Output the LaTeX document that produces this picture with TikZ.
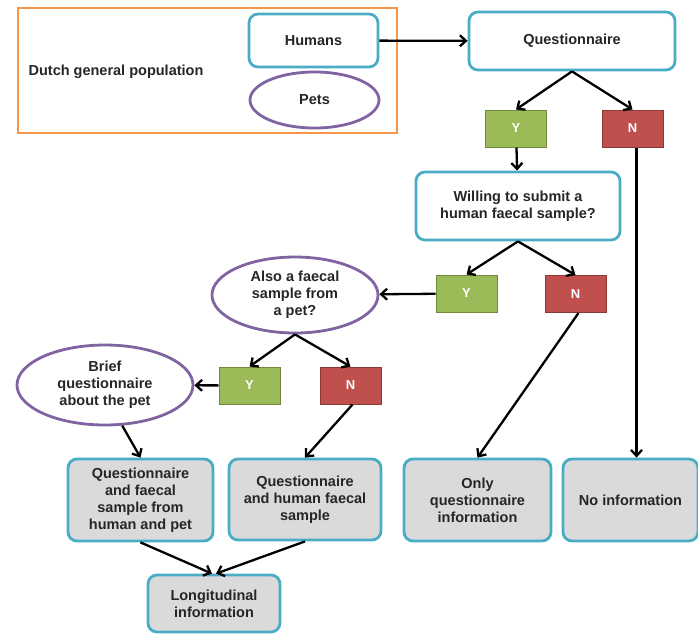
\documentclass[tikz,border=0pt]{standalone}
\usepackage{fontspec}
\setmainfont{Liberation Sans}
\usepackage{tikz}
\usetikzlibrary{shapes.geometric,arrows.meta}
\definecolor{aqua}{HTML}{4BACC6}
\definecolor{boxgrey}{HTML}{DADADA}
\definecolor{petpurple}{HTML}{8064A2}
\definecolor{popframe}{HTML}{F79646}
\definecolor{yesfill}{HTML}{9BBB59}
\definecolor{yesline}{HTML}{71893F}
\definecolor{nofill}{HTML}{C0504D}
\definecolor{noline}{HTML}{8C3836}

\begin{document}
\begin{tikzpicture}[x=1pt, y=-1pt,
        every node/.style={font=\bfseries\fontsize{14.5}{17}\selectfont, text=black!85, align=center},
        main/.style={draw=aqua, line width=2.8pt, rounded corners=9pt, fill=white, inner sep=0pt},
        final/.style={main, fill=boxgrey},
        oval/.style={draw=petpurple, line width=2.8pt, ellipse, fill=white, inner sep=0pt},
        yes/.style={draw=yesline, fill=yesfill, line width=1pt, text=white, font=\bfseries\fontsize{13}{15}\selectfont, minimum width=61pt, minimum height=37pt, inner sep=0pt},
        no/.style={yes, draw=noline, fill=nofill},
        arrow/.style={-{Straight Barb[length=6pt,width=11pt]}, line width=2.3pt}]

            \useasboundingbox (0,0) rectangle (698,633);

            \node[draw=popframe, line width=2.8pt, minimum width=379pt, minimum height=125pt, inner sep=0pt] (0) at (207.5,70.5) {};
            \node (1) at (116,72) {Dutch general population};
            \node[main, minimum width=129pt, minimum height=53pt] (2) at (313.5,40.5) {Humans};
            \node[oval, minimum width=129pt, minimum height=56pt] (3) at (314.5,100) {Pets};

            \node[main, minimum width=206pt, minimum height=58pt] (4) at (572,41) {Questionnaire};
            \node[yes] (5) at (516,128.5) {Y};
            \node[no] (6) at (632.5,128.5) {N};
            \node[main, minimum width=204pt, minimum height=68pt] (7) at (518,206) {Willing to submit a\\human faecal sample?};
            \node[yes] (8) at (466.5,293.5) {Y};
            \node[no] (9) at (575.5,294) {N};
            \node[oval, minimum width=166pt, minimum height=76pt] (10) at (295,295) {Also a faecal\\sample from\\a pet?};
            \node[yes] (11) at (249.5,385.5) {Y};
            \node[no] (12) at (350.5,385.5) {N};
            \node[oval, minimum width=176pt, minimum height=80pt] (13) at (105,385) {Brief\\questionnaire\\about the pet};

            \node[final, minimum width=145pt, minimum height=82pt] (14) at (140.5,500) {Questionnaire\\and faecal\\sample from\\human and pet};
            \node[final, minimum width=152pt, minimum height=81pt] (15) at (305,499.5) {Questionnaire\\and human faecal\\sample};
            \node[final, minimum width=147pt, minimum height=82pt] (16) at (477.5,500) {Only\\questionnaire\\information};
            \node[final, minimum width=135pt, minimum height=82pt] (17) at (630.5,500) {No information};
            \node[final, minimum width=132pt, minimum height=57pt] (18) at (214,603.5) {Longitudinal\\information};

            \draw[arrow] (2) -- (4);
            \draw[arrow] (4.south) -- (5.north);
            \draw[arrow] (4.south) -- (6.north);
            \draw[arrow] (5) -- (7);
            \draw[arrow] ([xshift=4pt]6.south) -- ([xshift=4pt]6.south |- 17.north);
            \draw[arrow] (7.south) -- (8.north);
            \draw[arrow] (7.south) -- (9.north);
            \draw[arrow] (8) -- (10);
            \draw[arrow] (10.south) -- (11.north);
            \draw[arrow] (10.south) -- (12.north);
            \draw[arrow] (11) -- (13);
            \draw[arrow] (13.-67) -- (14.north);
            \draw[arrow] ([xshift=2pt]12.south) -- (15.north);
            \draw[arrow] ([xshift=3pt]9.south) -- (16.north);
            \draw[arrow] (14.south) -- ([xshift=-2pt]18.north);
            \draw[arrow] (15.south) -- ([xshift=2pt]18.north);

            \end{tikzpicture}
\end{document}
